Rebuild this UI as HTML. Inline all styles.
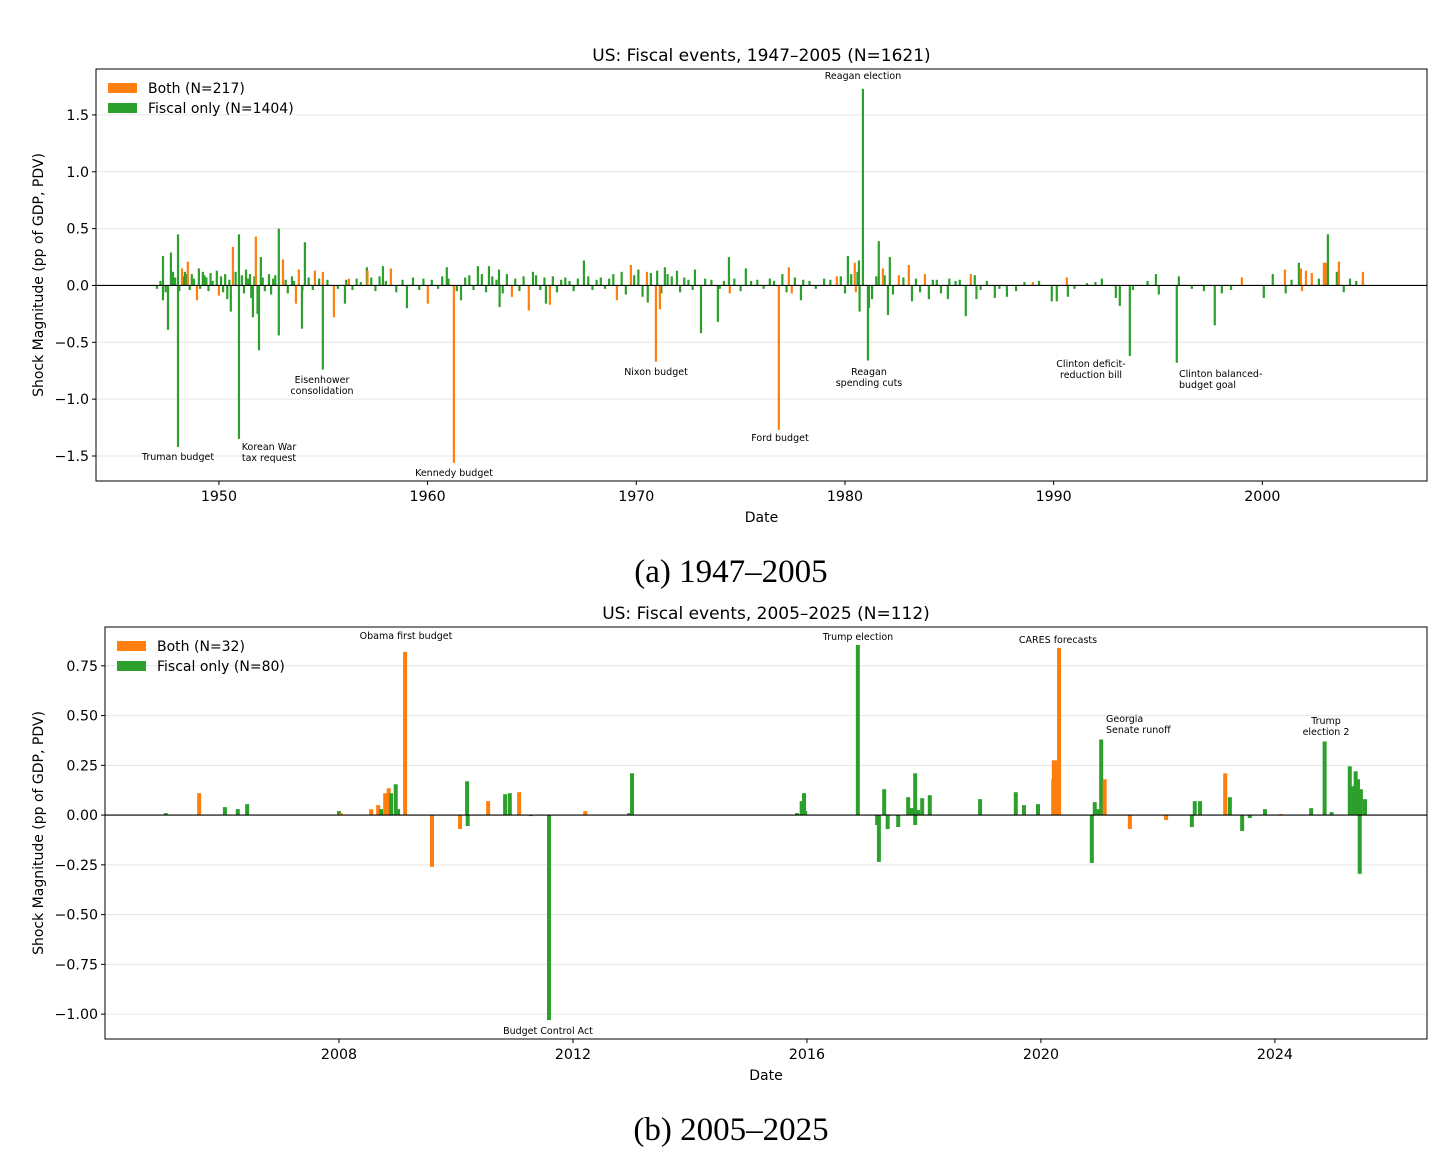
<!DOCTYPE html>
<html><head><meta charset="utf-8">
<style>
html,body{margin:0;padding:0;background:#fff;}
svg{display:block;font-family:"DejaVu Sans","Liberation Sans",sans-serif;}
.cap{font-family:"Liberation Serif",serif;font-size:33px;}
</style></head>
<body>
<svg id="chart" width="1448" height="1162" viewBox="0 0 1448 1162" xmlns="http://www.w3.org/2000/svg">
<g id="p1"></g>
<g id="p2"></g>
<text class="cap" x="731" y="582" text-anchor="middle">(a) 1947–2005</text>
<text class="cap" x="731" y="1140" text-anchor="middle">(b) 2005–2025</text>
</svg>
<script>
// ---------- Panel A data ----------
const topDates = [1947.03,1947.32,1947.32,1947.56,1947.70,1948.04,1948.04,1948.23,1948.37,1948.45,1948.51,1948.95,1949.04,1949.23,1949.90,1950.0,1950.57,1950.67,1950.96,1950.96,1951.49,1951.63,1951.77,1951.85,1951.92,1952.01,1952.87,1952.87,1953.07,1953.69,1953.83,1953.98,1954.12,1954.60,1954.98,1954.98,1955.51,1956.04,1956.23,1957.09,1957.12,1957.86,1958.24,1959.01,1960.01,1960.92,1961.26,1961.60,1962.41,1962.94,1963.42,1963.45,1964.04,1964.85,1965.05,1965.67,1965.86,1967.49,1969.07,1969.74,1970.51,1970.55,1970.94,1971.13,1971.37,1971.95,1972.81,1973.10,1973.91,1974.44,1974.48,1975.25,1976.83,1977.31,1977.45,1977.89,1979.61,1980.14,1980.47,1980.52,1980.67,1980.70,1980.86,1981.10,1981.15,1981.62,1981.82,1982.06,1982.15,1982.58,1983.06,1983.21,1983.83,1984.02,1984.21,1984.93,1985.79,1986.03,1986.22,1986.30,1987.18,1987.76,1989.00,1989.91,1990.15,1990.63,1990.68,1992.31,1992.98,1993.17,1993.65,1994.90,1995.04,1995.90,1996.62,1997.20,1997.72,1998.06,1999.02,2000.07,2001.08,2001.12,2001.75,2001.85,2001.90,2002.09,2002.37,2002.71,2002.95,2003.04,2003.14,2003.57,2003.67,2003.90,2004.20,2004.50,2004.82,2004.82];
const topValues = [-0.03,0.26,-0.13,-0.39,0.29,0.45,-1.42,0.15,0.12,0.10,0.21,-0.13,0.15,0.12,0.13,-0.09,-0.23,0.34,0.45,-1.35,0.10,-0.28,0.43,-0.25,-0.57,0.25,0.50,-0.44,0.23,-0.16,0.14,-0.38,0.38,0.13,0.12,-0.74,-0.28,-0.16,0.06,0.16,0.13,0.17,0.15,-0.20,-0.16,0.16,-1.56,-0.13,0.17,0.17,0.14,-0.19,-0.10,-0.22,0.12,-0.16,-0.17,0.22,-0.13,0.18,0.12,-0.15,-0.67,-0.21,0.16,0.13,0.14,-0.42,-0.32,0.25,-0.07,0.15,-1.27,0.16,-0.07,-0.13,0.08,0.26,0.20,-0.06,0.22,-0.23,1.73,-0.66,-0.20,0.39,0.15,-0.26,0.25,0.09,0.18,-0.14,0.10,-0.12,0.05,-0.12,-0.27,0.10,0.09,-0.12,-0.11,-0.10,0.03,-0.14,-0.14,0.07,-0.10,0.06,-0.11,-0.18,-0.62,0.10,-0.08,-0.68,-0.03,-0.05,-0.35,-0.07,0.07,-0.11,0.14,-0.07,0.20,0.15,-0.05,0.13,0.11,0.06,0.20,0.20,0.45,0.12,0.21,-0.06,0.06,0.04,0.05,0.12];
const topTypes = ["f","f","f","f","f","f","f","b","f","f","b","b","f","f","f","b","f","b","f","f","f","f","b","f","f","f","f","f","b","b","b","f","f","b","b","f","b","f","b","f","b","f","b","f","b","f","b","f","f","f","f","f","b","b","f","f","b","f","b","b","b","f","b","b","f","f","f","f","f","f","b","f","b","b","b","f","b","f","b","b","f","f","f","f","f","f","b","f","f","b","b","f","b","f","f","f","f","b","f","f","f","f","b","f","f","b","f","f","f","f","f","f","f","f","f","f","f","f","b","f","b","f","f","b","b","b","b","f","b","b","f","f","b","f","f","f","f","b","f"];
const minorDates = [1947.2,1947.45,1947.8,1947.9,1948.1,1948.3,1948.6,1948.7,1948.8,1949.1,1949.3,1949.4,1949.5,1949.6,1949.7,1950.1,1950.2,1950.3,1950.4,1950.5,1950.8,1951.1,1951.2,1951.3,1951.4,1951.55,1951.7,1952.1,1952.2,1952.4,1952.5,1952.6,1952.7,1953.2,1953.3,1953.5,1953.6,1954.0,1954.3,1954.5,1954.8,1955.2,1955.7,1956.1,1956.4,1956.6,1956.8,1957.3,1957.5,1957.7,1958.0,1958.5,1958.8,1959.3,1959.6,1959.8,1960.2,1960.5,1960.7,1961.0,1961.4,1961.8,1962.0,1962.2,1962.6,1962.8,1963.1,1963.3,1963.6,1963.8,1964.2,1964.4,1964.6,1965.2,1965.4,1965.6,1966.0,1966.2,1966.4,1966.6,1966.8,1967.0,1967.2,1967.7,1967.9,1968.1,1968.3,1968.5,1968.7,1968.9,1969.3,1969.5,1969.9,1970.1,1970.3,1970.7,1971.0,1971.2,1971.5,1971.7,1972.1,1972.3,1972.5,1972.7,1973.3,1973.6,1974.0,1974.2,1974.7,1975.0,1975.5,1975.8,1976.1,1976.4,1976.6,1977.0,1977.2,1977.6,1978.0,1978.3,1978.6,1979.0,1979.3,1979.8,1980.0,1980.3,1980.6,1981.3,1981.5,1981.9,1982.3,1982.8,1983.4,1983.6,1984.4,1984.6,1985.0,1985.3,1985.5,1986.5,1986.8,1987.4,1988.2,1988.6,1989.3,1991.0,1991.6,1992.0,1993.8,1994.5,1996.0,1998.5,2000.5,2001.4,2002.2,2002.5,2003.3,2004.0];
const minorValues = [0.04,-0.06,0.12,0.07,-0.05,0.08,-0.04,0.1,0.06,-0.03,0.09,0.07,-0.05,0.11,0.04,0.08,-0.06,0.1,-0.12,0.05,0.12,0.09,-0.07,0.14,0.06,-0.11,0.08,0.07,-0.05,0.1,-0.08,0.06,0.09,0.05,-0.07,0.08,0.04,-0.05,0.07,-0.04,0.06,0.05,-0.03,0.05,-0.04,0.06,0.03,0.07,-0.05,0.08,0.04,-0.06,0.05,0.07,-0.04,0.06,0.05,-0.03,0.08,0.06,-0.05,0.07,0.09,-0.04,0.1,-0.06,0.08,0.05,-0.07,0.1,0.06,-0.05,0.08,0.09,-0.04,0.07,0.08,-0.06,0.05,0.07,0.04,-0.05,0.06,0.08,-0.04,0.05,0.07,-0.03,0.06,0.1,0.12,-0.08,0.09,0.14,-0.1,0.11,0.13,-0.07,0.1,0.08,-0.06,0.07,0.05,-0.04,0.06,0.05,-0.03,0.04,0.06,-0.05,0.04,0.05,-0.03,0.06,0.04,0.1,-0.06,0.07,0.05,0.04,-0.03,0.06,0.05,0.08,-0.07,0.1,0.12,-0.12,0.08,0.09,-0.08,0.07,0.06,-0.06,0.05,-0.07,0.06,0.04,0.05,-0.04,0.04,-0.03,-0.05,0.03,0.04,-0.03,0.02,0.03,-0.04,0.04,0.08,-0.04,0.1,0.05];
const topYTicks = [-1.5,-1.0,-0.5,0.0,0.5,1.0,1.5];
const topYLabels = ["−1.5","−1.0","−0.5","0.0","0.5","1.0","1.5"];
const topXTicks = [1950,1960,1970,1980,1990,2000];

// ---------- Panel B data ----------
const botDates = [2005.04,2005.61,2006.05,2006.27,2006.43,2008.0,2008.03,2008.55,2008.67,2008.72,2008.79,2008.85,2008.89,2008.97,2009.01,2009.13,2009.59,2010.07,2010.19,2010.2,2010.55,2010.84,2010.92,2011.08,2011.28,2011.59,2012.21,2012.96,2013.01,2015.83,2015.91,2015.95,2015.97,2016.87,2017.2,2017.23,2017.32,2017.38,2017.56,2017.73,2017.79,2017.85,2017.85,2017.9,2017.97,2018.1,2018.96,2019.57,2019.71,2019.95,2020.21,2020.22,2020.27,2020.31,2020.87,2020.92,2020.97,2021.03,2021.09,2021.52,2022.14,2022.58,2022.63,2022.72,2023.15,2023.23,2023.44,2023.57,2023.83,2024.1,2024.62,2024.85,2024.97,2025.28,2025.32,2025.38,2025.42,2025.45,2025.47,2025.54];
const botValues = [0.01,0.11,0.04,0.03,0.055,0.02,0.01,0.03,0.05,0.03,0.11,0.135,0.11,0.155,0.03,0.82,-0.26,-0.07,0.17,-0.055,0.07,0.105,0.11,0.115,-0.005,-1.03,0.02,0.01,0.21,0.01,0.07,0.11,0.02,0.855,-0.05,-0.235,0.13,-0.07,-0.06,0.09,0.035,0.21,-0.05,0.025,0.085,0.1,0.08,0.115,0.05,0.055,0.18,0.275,0.275,0.84,-0.24,0.065,0.03,0.38,0.18,-0.07,-0.025,-0.06,0.07,0.07,0.21,0.09,-0.08,-0.015,0.03,0.005,0.035,0.37,0.015,0.245,0.145,0.22,0.18,-0.295,0.13,0.08];
const botTypes = ["f","b","f","f","f","f","b","b","b","f","b","b","f","f","f","b","b","b","f","f","b","f","f","b","f","f","b","f","f","f","f","f","f","f","f","f","f","f","f","f","f","f","f","f","f","f","f","f","f","f","b","b","b","b","f","f","f","f","b","b","b","f","f","f","b","f","f","f","f","b","f","f","f","f","f","f","f","f","f","f"];
const botYTicks = [-1.0,-0.75,-0.5,-0.25,0.0,0.25,0.5,0.75];
const botYLabels = ["−1.00","−0.75","−0.50","−0.25","0.00","0.25","0.50","0.75"];
const botXTicks = [2008,2012,2016,2020,2024];

const ORANGE = "#ff7f0e", GREEN = "#2ca02c";
const NS = "http://www.w3.org/2000/svg";
function mk(parent, tag, attrs, txt){
  const e = document.createElementNS(NS, tag);
  for (const k in attrs) e.setAttribute(k, attrs[k]);
  if (txt !== undefined) e.textContent = txt;
  parent.appendChild(e);
  return e;
}
function panel(g, cfg){
  const {x0,x1,y0,y1,d0,d1,v0,v1} = cfg;
  const X = d => x0 + (d - d0) / (d1 - d0) * (x1 - x0);
  const Y = v => y1 - (v - v0) / (v1 - v0) * (y1 - y0);
  cfg.yTicks.forEach((t,i)=>{
    const gl = mk(g,'line',{x1:x0,x2:x1,y1:Y(t),y2:Y(t),stroke:'#e6e6e6','stroke-width':1});
    
    
    mk(g,'line',{x1:x0-4,x2:x0,y1:Y(t),y2:Y(t),stroke:'#000','stroke-width':1});
    const tl = mk(g,'text',{x:x0-7,y:Y(t)+5,'text-anchor':'end','font-size':14.2},cfg.yLabels[i]);
    
    
  });
  cfg.xTicks.forEach(t=>{
    mk(g,'line',{x1:X(t),x2:X(t),y1:y1,y2:y1+4,stroke:'#000','stroke-width':1});
    const tl = mk(g,'text',{x:X(t),y:y1+20,'text-anchor':'middle','font-size':14.2},String(t));
    
    
  });
  const bw = cfg.bw;
  function bar(d,v,type){
    const yA = Y(Math.max(v,0)), yB = Y(Math.min(v,0));
    const r = mk(g,'rect',{x:X(d)-bw/2,y:yA,width:bw,height:Math.max(yB-yA,0.8),fill:type==='b'?ORANGE:GREEN});
    
    
  }
  if (cfg.minorD) cfg.minorD.forEach((d,i)=>bar(d,cfg.minorV[i],'f'));
  cfg.dates.forEach((d,i)=>bar(d,cfg.values[i],cfg.types[i]));
  mk(g,'line',{x1:x0,x2:x1,y1:Y(0),y2:Y(0),stroke:'#000','stroke-width':1.2});
  const fr = mk(g,'rect',{x:x0,y:y0,width:x1-x0,height:y1-y0,fill:'none',stroke:'#000','stroke-width':1});
  
  
  const tt = mk(g,'text',{x:(x0+x1)/2,y:y0-8,'text-anchor':'middle','font-size':17},cfg.title);
  
  
  const xl = mk(g,'text',{x:(x0+x1)/2,y:y1+41,'text-anchor':'middle','font-size':14},'Date');
  
  
  const ycy = (y0+y1)/2;
  const yl = mk(g,'text',{x:cfg.ylx,y:ycy,'text-anchor':'middle','font-size':14,transform:`rotate(-90 ${cfg.ylx} ${ycy})`},'Shock Magnitude (pp of GDP, PDV)');
  
  
  const lx = x0+12, ly = y0+14;
  [[ORANGE,cfg.leg[0]],[GREEN,cfg.leg[1]]].forEach((p,i)=>{
    const lg = mk(g,'g',{});
    
    
    mk(lg,'rect',{x:lx,y:ly+i*20,width:29,height:10,fill:p[0]});
    mk(lg,'text',{x:lx+40,y:ly+i*20+10,'font-size':14},p[1]);
  });
  cfg.ann.forEach(a=>{
    const t = mk(g,'text',{x:a[0],y:a[1],'text-anchor':a[3]||'middle','font-size':9.5});
    
    
    a[2].split('|').forEach((s,i)=>mk(t,'tspan',{x:a[0],dy:i?11:0},s));
  });
}
panel(document.getElementById('p1'),{
  x0:96,x1:1427,y0:69,y1:481,d0:1944.11,d1:2007.89,v0:-1.72,v1:1.904,
  dates:topDates,values:topValues,types:topTypes,minorD:minorDates,minorV:minorValues,
  yTicks:topYTicks,yLabels:topYLabels,xTicks:topXTicks,bw:2.2,ylx:43,
  title:'US: Fiscal events, 1947–2005 (N=1621)',leg:['Both (N=217)','Fiscal only (N=1404)'],
  ann:[[863,79,'Reagan election'],[178,460,'Truman budget'],[269,450,'Korean War|tax request'],[322,383,'Eisenhower|consolidation'],[454,476,'Kennedy budget'],[656,375,'Nixon budget'],[780,441,'Ford budget'],[869,375,'Reagan|spending cuts'],[1091,367,'Clinton deficit-|reduction bill'],[1179,377,'Clinton balanced-|budget goal','start']]
});
panel(document.getElementById('p2'),{
  x0:105,x1:1427,y0:627,y1:1039,d0:2004.0,d1:2026.6,v0:-1.125,v1:0.945,
  dates:botDates,values:botValues,types:botTypes,
  yTicks:botYTicks,yLabels:botYLabels,xTicks:botXTicks,bw:4,ylx:43,
  title:'US: Fiscal events, 2005–2025 (N=112)',leg:['Both (N=32)','Fiscal only (N=80)'],
  ann:[[406,639,'Obama first budget'],[548,1034,'Budget Control Act'],[858,640,'Trump election'],[1058,643,'CARES forecasts'],[1106,722,'Georgia|Senate runoff','start'],[1326,724,'Trump|election 2']]
});
</script>
</body></html>
